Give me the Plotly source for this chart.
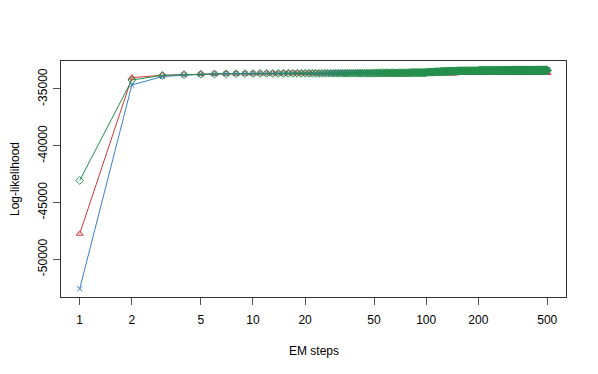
import plotly.graph_objects as go

steps = list(range(1, 501))

loglik_red = [
    -47750, -34000, -33790, -33720, -33690, -33670, -33660, -33650, -33640, -33640,
    -33630, -33630, -33630, -33630, -33630, -33620, -33620, -33620, -33620, -33620,
    -33620, -33620, -33620, -33620, -33620, -33610, -33610, -33610, -33610, -33610,
    -33610, -33610, -33610, -33610, -33610, -33610, -33610, -33610, -33610, -33610,
    -33610, -33610, -33610, -33610, -33610, -33610, -33610, -33610, -33610, -33610,
    -33610, -33610, -33610, -33610, -33610, -33610, -33610, -33610, -33610, -33610,
    -33600, -33600, -33600, -33600, -33600, -33600, -33600, -33600, -33600, -33600,
    -33600, -33600, -33600, -33600, -33600, -33600, -33600, -33600, -33600, -33600,
    -33600, -33600, -33600, -33600, -33600, -33600, -33600, -33600, -33600, -33600,
    -33600, -33600, -33600, -33600, -33600, -33600, -33600, -33600, -33600, -33600,
    -33600, -33600, -33600, -33600, -33600, -33600, -33600, -33600, -33600, -33600,
    -33600, -33600, -33600, -33600, -33600, -33600, -33600, -33600, -33600, -33600,
    -33600, -33600, -33600, -33600, -33600, -33600, -33600, -33600, -33600, -33600,
    -33600, -33600, -33600, -33600, -33600, -33600, -33600, -33600, -33600, -33600,
    -33600, -33600, -33600, -33600, -33600, -33600, -33600, -33600, -33600, -33600,
    -33590, -33590, -33590, -33590, -33590, -33590, -33590, -33590, -33590, -33590,
    -33590, -33590, -33590, -33590, -33590, -33590, -33590, -33590, -33590, -33590,
    -33590, -33590, -33590, -33590, -33590, -33590, -33590, -33590, -33590, -33590,
    -33590, -33590, -33590, -33590, -33590, -33590, -33590, -33590, -33590, -33590,
    -33590, -33590, -33590, -33590, -33590, -33590, -33590, -33590, -33590, -33590,
    -33590, -33590, -33590, -33590, -33590, -33590, -33590, -33590, -33590, -33590,
    -33590, -33590, -33590, -33590, -33590, -33590, -33590, -33590, -33590, -33590,
    -33590, -33590, -33590, -33590, -33590, -33590, -33590, -33590, -33590, -33590,
    -33590, -33590, -33590, -33590, -33590, -33590, -33590, -33590, -33590, -33590,
    -33590, -33590, -33590, -33590, -33590, -33590, -33590, -33590, -33590, -33590,
    -33590, -33590, -33590, -33590, -33590, -33590, -33590, -33590, -33590, -33590,
    -33590, -33590, -33590, -33590, -33590, -33590, -33590, -33590, -33590, -33590,
    -33590, -33590, -33590, -33590, -33590, -33590, -33590, -33590, -33590, -33590,
    -33590, -33590, -33590, -33590, -33590, -33590, -33590, -33590, -33590, -33590,
    -33590, -33590, -33590, -33590, -33590, -33590, -33590, -33590, -33590, -33590,
    -33590, -33590, -33590, -33590, -33590, -33590, -33590, -33590, -33590, -33590,
    -33590, -33590, -33590, -33590, -33590, -33590, -33590, -33590, -33590, -33590,
    -33590, -33590, -33590, -33590, -33590, -33590, -33590, -33590, -33590, -33590,
    -33590, -33590, -33590, -33590, -33590, -33590, -33590, -33590, -33590, -33590,
    -33590, -33590, -33590, -33590, -33590, -33590, -33590, -33590, -33590, -33590,
    -33590, -33590, -33590, -33590, -33590, -33590, -33590, -33590, -33590, -33590,
    -33590, -33590, -33590, -33590, -33590, -33590, -33590, -33590, -33590, -33590,
    -33590, -33590, -33590, -33590, -33590, -33590, -33590, -33590, -33590, -33590,
    -33590, -33590, -33590, -33590, -33590, -33590, -33590, -33590, -33590, -33590,
    -33590, -33590, -33590, -33590, -33590, -33590, -33590, -33590, -33590, -33590,
    -33590, -33590, -33590, -33590, -33590, -33590, -33590, -33590, -33590, -33590,
    -33590, -33590, -33590, -33590, -33590, -33590, -33590, -33590, -33590, -33590,
    -33590, -33590, -33590, -33590, -33590, -33590, -33590, -33590, -33590, -33590,
    -33590, -33590, -33590, -33590, -33590, -33590, -33590, -33590, -33590, -33590,
    -33590, -33590, -33590, -33590, -33590, -33590, -33590, -33590, -33590, -33590,
    -33590, -33590, -33590, -33590, -33590, -33590, -33590, -33590, -33590, -33590,
    -33590, -33590, -33590, -33590, -33590, -33590, -33590, -33590, -33590, -33590,
    -33590, -33590, -33590, -33590, -33590, -33590, -33590, -33590, -33590, -33590,
    -33590, -33590, -33590, -33590, -33590, -33590, -33590, -33590, -33590, -33590,
    -33590, -33590, -33590, -33590, -33590, -33590, -33590, -33590, -33590, -33590,
]

loglik_blue = [
    -52590, -34650, -33900, -33760, -33710, -33680, -33660, -33650, -33640, -33630,
    -33620, -33620, -33620, -33620, -33620, -33610, -33610, -33610, -33610, -33610,
    -33600, -33600, -33600, -33600, -33600, -33600, -33600, -33600, -33600, -33600,
    -33580, -33580, -33580, -33580, -33580, -33580, -33580, -33580, -33580, -33580,
    -33560, -33560, -33560, -33560, -33560, -33560, -33560, -33560, -33560, -33560,
    -33560, -33560, -33560, -33560, -33560, -33560, -33560, -33560, -33560, -33560,
    -33540, -33540, -33540, -33540, -33540, -33540, -33540, -33540, -33540, -33540,
    -33540, -33540, -33540, -33540, -33540, -33540, -33540, -33540, -33540, -33540,
    -33510, -33510, -33510, -33510, -33510, -33510, -33510, -33510, -33510, -33510,
    -33510, -33510, -33510, -33510, -33510, -33510, -33510, -33510, -33510, -33510,
    -33480, -33480, -33480, -33480, -33480, -33480, -33480, -33480, -33480, -33480,
    -33450, -33450, -33450, -33450, -33450, -33450, -33450, -33450, -33450, -33450,
    -33420, -33420, -33420, -33420, -33420, -33420, -33420, -33420, -33420, -33420,
    -33400, -33400, -33400, -33400, -33400, -33400, -33400, -33400, -33400, -33400,
    -33400, -33400, -33400, -33400, -33400, -33400, -33400, -33400, -33400, -33400,
    -33370, -33370, -33370, -33370, -33370, -33370, -33370, -33370, -33370, -33370,
    -33370, -33370, -33370, -33370, -33370, -33370, -33370, -33370, -33370, -33370,
    -33370, -33370, -33370, -33370, -33370, -33370, -33370, -33370, -33370, -33370,
    -33370, -33370, -33370, -33370, -33370, -33370, -33370, -33370, -33370, -33370,
    -33370, -33370, -33370, -33370, -33370, -33370, -33370, -33370, -33370, -33370,
    -33350, -33350, -33350, -33350, -33350, -33350, -33350, -33350, -33350, -33350,
    -33350, -33350, -33350, -33350, -33350, -33350, -33350, -33350, -33350, -33350,
    -33350, -33350, -33350, -33350, -33350, -33350, -33350, -33350, -33350, -33350,
    -33350, -33350, -33350, -33350, -33350, -33350, -33350, -33350, -33350, -33350,
    -33350, -33350, -33350, -33350, -33350, -33350, -33350, -33350, -33350, -33350,
    -33350, -33350, -33350, -33350, -33350, -33350, -33350, -33350, -33350, -33350,
    -33350, -33350, -33350, -33350, -33350, -33350, -33350, -33350, -33350, -33350,
    -33350, -33350, -33350, -33350, -33350, -33350, -33350, -33350, -33350, -33350,
    -33350, -33350, -33350, -33350, -33350, -33350, -33350, -33350, -33350, -33350,
    -33350, -33350, -33350, -33350, -33350, -33350, -33350, -33350, -33350, -33350,
    -33330, -33330, -33330, -33330, -33330, -33330, -33330, -33330, -33330, -33330,
    -33330, -33330, -33330, -33330, -33330, -33330, -33330, -33330, -33330, -33330,
    -33330, -33330, -33330, -33330, -33330, -33330, -33330, -33330, -33330, -33330,
    -33330, -33330, -33330, -33330, -33330, -33330, -33330, -33330, -33330, -33330,
    -33330, -33330, -33330, -33330, -33330, -33330, -33330, -33330, -33330, -33330,
    -33330, -33330, -33330, -33330, -33330, -33330, -33330, -33330, -33330, -33330,
    -33330, -33330, -33330, -33330, -33330, -33330, -33330, -33330, -33330, -33330,
    -33330, -33330, -33330, -33330, -33330, -33330, -33330, -33330, -33330, -33330,
    -33330, -33330, -33330, -33330, -33330, -33330, -33330, -33330, -33330, -33330,
    -33330, -33330, -33330, -33330, -33330, -33330, -33330, -33330, -33330, -33330,
    -33330, -33330, -33330, -33330, -33330, -33330, -33330, -33330, -33330, -33330,
    -33330, -33330, -33330, -33330, -33330, -33330, -33330, -33330, -33330, -33330,
    -33330, -33330, -33330, -33330, -33330, -33330, -33330, -33330, -33330, -33330,
    -33330, -33330, -33330, -33330, -33330, -33330, -33330, -33330, -33330, -33330,
    -33330, -33330, -33330, -33330, -33330, -33330, -33330, -33330, -33330, -33330,
    -33330, -33330, -33330, -33330, -33330, -33330, -33330, -33330, -33330, -33330,
    -33330, -33330, -33330, -33330, -33330, -33330, -33330, -33330, -33330, -33330,
    -33330, -33330, -33330, -33330, -33330, -33330, -33330, -33330, -33330, -33330,
    -33330, -33330, -33330, -33330, -33330, -33330, -33330, -33330, -33330, -33330,
    -33330, -33330, -33330, -33330, -33330, -33330, -33330, -33330, -33330, -33330,
]

loglik_green = [
    -43060, -34210, -33800, -33730, -33700, -33680, -33670, -33660, -33650, -33640,
    -33630, -33630, -33630, -33630, -33630, -33620, -33620, -33620, -33620, -33620,
    -33620, -33620, -33620, -33620, -33620, -33610, -33610, -33610, -33610, -33610,
    -33610, -33610, -33610, -33610, -33610, -33610, -33610, -33610, -33610, -33610,
    -33610, -33610, -33610, -33610, -33610, -33610, -33610, -33610, -33610, -33610,
    -33590, -33590, -33590, -33590, -33590, -33590, -33590, -33590, -33590, -33590,
    -33590, -33590, -33590, -33590, -33590, -33590, -33590, -33590, -33590, -33590,
    -33590, -33590, -33590, -33590, -33590, -33590, -33590, -33590, -33590, -33590,
    -33560, -33560, -33560, -33560, -33560, -33560, -33560, -33560, -33560, -33560,
    -33560, -33560, -33560, -33560, -33560, -33560, -33560, -33560, -33560, -33560,
    -33520, -33520, -33520, -33520, -33520, -33520, -33520, -33520, -33520, -33520,
    -33490, -33490, -33490, -33490, -33490, -33490, -33490, -33490, -33490, -33490,
    -33460, -33460, -33460, -33460, -33460, -33460, -33460, -33460, -33460, -33460,
    -33440, -33440, -33440, -33440, -33440, -33440, -33440, -33440, -33440, -33440,
    -33420, -33420, -33420, -33420, -33420, -33420, -33420, -33420, -33420, -33420,
    -33400, -33400, -33400, -33400, -33400, -33400, -33400, -33400, -33400, -33400,
    -33400, -33400, -33400, -33400, -33400, -33400, -33400, -33400, -33400, -33400,
    -33400, -33400, -33400, -33400, -33400, -33400, -33400, -33400, -33400, -33400,
    -33400, -33400, -33400, -33400, -33400, -33400, -33400, -33400, -33400, -33400,
    -33400, -33400, -33400, -33400, -33400, -33400, -33400, -33400, -33400, -33400,
    -33380, -33380, -33380, -33380, -33380, -33380, -33380, -33380, -33380, -33380,
    -33380, -33380, -33380, -33380, -33380, -33380, -33380, -33380, -33380, -33380,
    -33380, -33380, -33380, -33380, -33380, -33380, -33380, -33380, -33380, -33380,
    -33380, -33380, -33380, -33380, -33380, -33380, -33380, -33380, -33380, -33380,
    -33380, -33380, -33380, -33380, -33380, -33380, -33380, -33380, -33380, -33380,
    -33380, -33380, -33380, -33380, -33380, -33380, -33380, -33380, -33380, -33380,
    -33380, -33380, -33380, -33380, -33380, -33380, -33380, -33380, -33380, -33380,
    -33380, -33380, -33380, -33380, -33380, -33380, -33380, -33380, -33380, -33380,
    -33380, -33380, -33380, -33380, -33380, -33380, -33380, -33380, -33380, -33380,
    -33380, -33380, -33380, -33380, -33380, -33380, -33380, -33380, -33380, -33380,
    -33360, -33360, -33360, -33360, -33360, -33360, -33360, -33360, -33360, -33360,
    -33360, -33360, -33360, -33360, -33360, -33360, -33360, -33360, -33360, -33360,
    -33360, -33360, -33360, -33360, -33360, -33360, -33360, -33360, -33360, -33360,
    -33360, -33360, -33360, -33360, -33360, -33360, -33360, -33360, -33360, -33360,
    -33360, -33360, -33360, -33360, -33360, -33360, -33360, -33360, -33360, -33360,
    -33360, -33360, -33360, -33360, -33360, -33360, -33360, -33360, -33360, -33360,
    -33360, -33360, -33360, -33360, -33360, -33360, -33360, -33360, -33360, -33360,
    -33360, -33360, -33360, -33360, -33360, -33360, -33360, -33360, -33360, -33360,
    -33360, -33360, -33360, -33360, -33360, -33360, -33360, -33360, -33360, -33360,
    -33360, -33360, -33360, -33360, -33360, -33360, -33360, -33360, -33360, -33360,
    -33360, -33360, -33360, -33360, -33360, -33360, -33360, -33360, -33360, -33360,
    -33360, -33360, -33360, -33360, -33360, -33360, -33360, -33360, -33360, -33360,
    -33360, -33360, -33360, -33360, -33360, -33360, -33360, -33360, -33360, -33360,
    -33360, -33360, -33360, -33360, -33360, -33360, -33360, -33360, -33360, -33360,
    -33360, -33360, -33360, -33360, -33360, -33360, -33360, -33360, -33360, -33360,
    -33360, -33360, -33360, -33360, -33360, -33360, -33360, -33360, -33360, -33360,
    -33360, -33360, -33360, -33360, -33360, -33360, -33360, -33360, -33360, -33360,
    -33360, -33360, -33360, -33360, -33360, -33360, -33360, -33360, -33360, -33360,
    -33360, -33360, -33360, -33360, -33360, -33360, -33360, -33360, -33360, -33360,
    -33360, -33360, -33360, -33360, -33360, -33360, -33360, -33360, -33360, -33360,
]

x_ticks = [1, 2, 5, 10, 20, 50, 100, 200, 500]
y_ticks = [-50000, -45000, -40000, -35000]

RED = "#D8383A"
BLUE = "#3A7FCF"
GREEN = "#24904A"

fig = go.Figure()
series = [
    (loglik_red, RED, "triangle-up-open", 6),
    (loglik_blue, BLUE, "x-thin-open", 5),
    (loglik_green, GREEN, "diamond-open", 6),
]
for vals, col, sym, sz in series:
    fig.add_trace(go.Scatter(
        x=steps, y=vals, mode="lines+markers",
        line=dict(color=col, width=1),
        marker=dict(symbol=sym, size=sz, color=col, line=dict(color=col, width=1)),
        showlegend=False, hoverinfo="skip",
    ))

axis_common = dict(
    showgrid=False, zeroline=False, showline=True, mirror=True,
    linecolor="#333333", linewidth=1, ticks="outside", ticklen=7,
    tickcolor="#555555", tickwidth=1, automargin=False,
    tickfont=dict(family="Liberation Sans, Arial, sans-serif", size=12, color="black"),
)

# page body has an 8px default margin, so the figure is offset by 8px
fig.update_layout(
    width=590, height=366,
    margin=dict(l=53, r=31.5, t=53, b=77, autoexpand=False),
    paper_bgcolor="white", plot_bgcolor="white",
    font=dict(family="Liberation Sans, Arial, sans-serif", size=12, color="black"),
    xaxis=dict(type="log", range=[-0.108, 2.807], tickvals=x_ticks,
               ticktext=[str(v) for v in x_ticks], ticklabelstandoff=5,
               **axis_common),
    yaxis=dict(range=[-53319, -32535], tickvals=y_ticks,
               ticktext=[str(v) for v in y_ticks], tickangle=-90,
               ticklabelstandoff=1, **axis_common),
    annotations=[
        dict(text="EM steps", xref="paper", yref="paper", x=0.5, y=-0.2288,
             xanchor="center", yanchor="middle", showarrow=False,
             font=dict(size=12, color="black")),
        dict(text="Log-likelihood", xref="paper", yref="paper", x=-0.091, y=0.5,
             xanchor="center", yanchor="middle", textangle=-90, showarrow=False,
             font=dict(size=12, color="black")),
    ],
)

fig.write_html("out.html")
